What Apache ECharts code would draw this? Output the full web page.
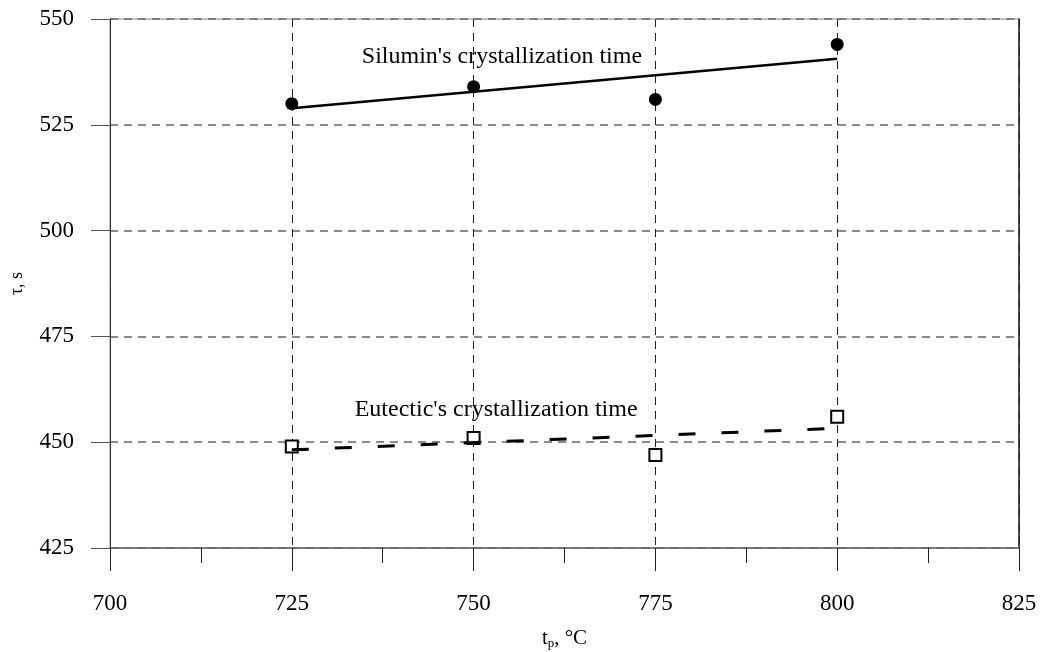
<!DOCTYPE html>
<html>
<head>
<meta charset="utf-8">
<script src="https://cdn.jsdelivr.net/npm/echarts@6/dist/echarts.min.js"></script>
<style>
  html, body { margin:0; padding:0; background:#fff; }
  #chart { width:1043px; height:652px; }
</style>
</head>
<body>
<div id="chart"></div>
<script>
// temperatures, deg C
var temps = [725, 750, 775, 800];
// measured crystallization times, s
var silumin = [530, 534, 531, 544];
var eutectic = [449, 451, 447, 456];
// trend lines (end points)
var siluminTrend = [[725, 528.9], [800, 540.6]];
var eutecticTrend = [[725, 448.2], [800, 453.3]];
// annotation anchors (data space)
var siluminNote = [753.9, 541.0];
var eutecticNote = [753.1, 457.7];

var font = 'Liberation Serif, Times New Roman, serif';

function pairs(xs, ys) {
    return xs.map(function (x, i) { return [x, ys[i]]; });
}

var chart = echarts.init(document.getElementById('chart'));
chart.setOption({
    animation:false,
    backgroundColor:'#fff',
    grid:{
        left:110,
        right:24,
        top:19,
        bottom:104,
        outerBoundsMode:'none',
        containLabel:false,
        show:true,
        borderColor:'#888',
        borderWidth:1
    },
    xAxis:{
        type:'value',
        min:700,
        max:825,
        interval:25,
        name:'{t|t}{p|p}{t|, °C}',
        nameLocation:'middle',
        nameGap:79,
        nameTextStyle:{
            rich:{
                t:{fontFamily:font, fontSize:21, color:'#000'},
                p:{fontFamily:font, fontSize:13, color:'#000', padding:[10,0,0,0]}
            }
        },
        axisLine:{ lineStyle:{color:'#666', width:1.5} },
        axisTick:{ length:23, lineStyle:{color:'#222', width:1} },
        minorTick:{ show:true, splitNumber:2, length:15, lineStyle:{color:'#222', width:1} },
        axisLabel:{ fontFamily:font, fontSize:23, color:'#000', margin:44 },
        splitLine:{ show:true, lineStyle:{color:'#222', type:[8,6], width:1} }
    },
    yAxis:[{
        type:'value',
        min:425,
        max:550,
        interval:25,
        name:'τ, s',
        nameLocation:'middle',
        nameGap:84,
        nameRotate:90,
        nameTextStyle:{fontFamily:font, fontSize:18, color:'#000'},
        axisLine:{ show:true, lineStyle:{color:'#333', width:1} },
        axisTick:{ show:true, length:19, lineStyle:{color:'#555'} },
        axisLabel:{ fontFamily:font, fontSize:23, color:'#000', margin:36 },
        splitLine:{ show:true, lineStyle:{color:'#666', type:[8,6], width:1.5} }
    },{
        type:'value',
        min:425,
        max:550,
        position:'right',
        axisLine:{ show:true, lineStyle:{color:'#222', width:1.5} },
        axisTick:{ show:false },
        axisLabel:{ show:false },
        splitLine:{ show:false }
    }],
    series:[
        {
            name:'silumin trend',
            type:'line',
            data:siluminTrend,
            symbol:'none',
            lineStyle:{color:'#000', width:2.5},
            markPoint:{
                symbol:'circle',
                symbolSize:0,
                label:{
                    show:true,
                    position:'inside',
                    fontFamily:font,
                    fontSize:24,
                    color:'#000',
                    formatter:"Silumin's crystallization time"
                },
                data:[{coord:siluminNote}]
            }
        },
        {
            name:'eutectic trend',
            type:'line',
            data:eutecticTrend,
            symbol:'none',
            lineStyle:{color:'#000', width:3, type:[17,26]},
            markPoint:{
                symbol:'circle',
                symbolSize:0,
                label:{
                    show:true,
                    position:'inside',
                    fontFamily:font,
                    fontSize:24,
                    color:'#000',
                    formatter:"Eutectic's crystallization time"
                },
                data:[{coord:eutecticNote}]
            }
        },
        {
            name:'silumin',
            type:'scatter',
            data:pairs(temps, silumin),
            symbol:'circle',
            symbolSize:13,
            itemStyle:{color:'#000', opacity:1}
        },
        {
            name:'eutectic',
            type:'scatter',
            data:pairs(temps, eutectic),
            symbol:'rect',
            symbolSize:12,
            itemStyle:{color:'#fff', borderColor:'#000', borderWidth:2, opacity:1}
        }
    ]
});
</script>
</body>
</html>
